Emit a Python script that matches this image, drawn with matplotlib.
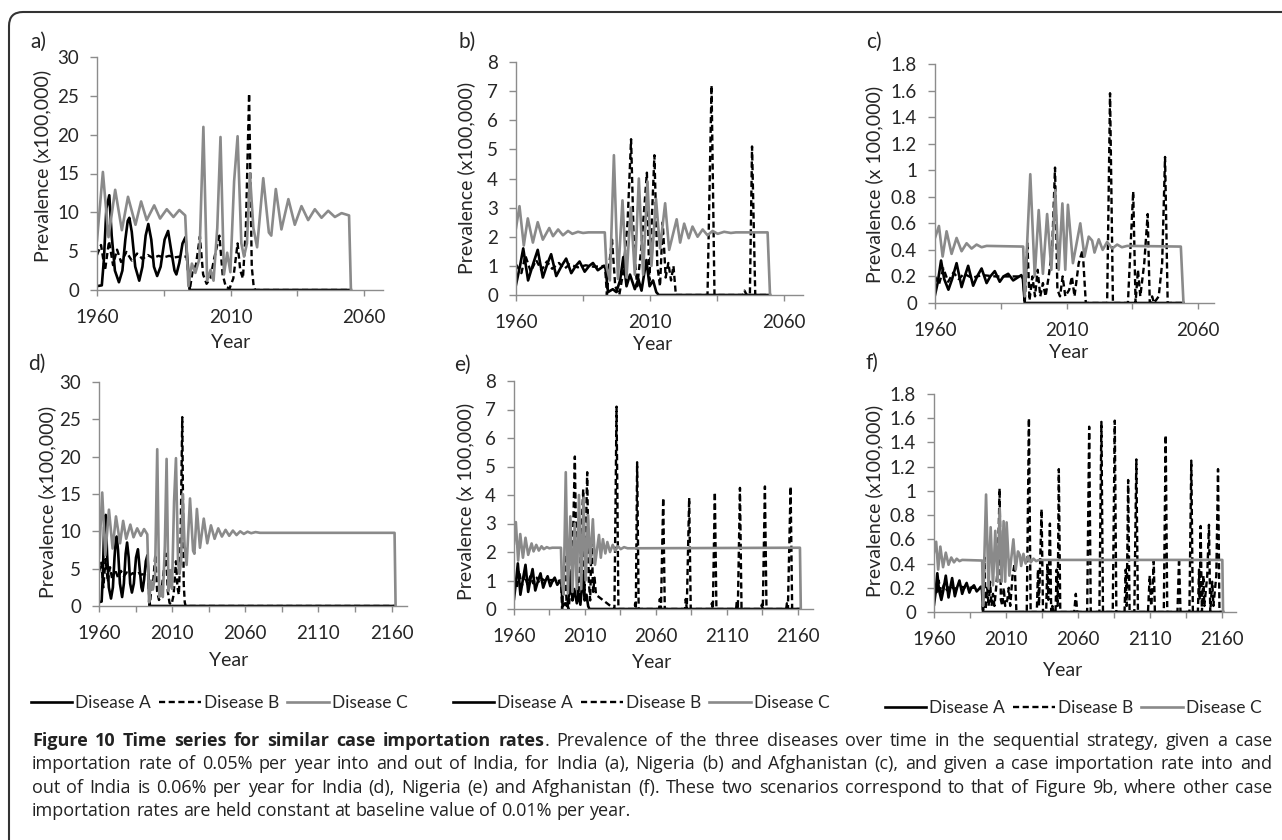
import matplotlib
matplotlib.use("Agg")
import matplotlib.pyplot as plt
from matplotlib.lines import Line2D
from matplotlib.patches import FancyBboxPatch
from matplotlib.transforms import IdentityTransform
from matplotlib.ticker import FixedLocator, FuncFormatter

plt.rcParams['font.family'] = ['Lato', 'DejaVu Sans']

### Data: (year, prevalence) vertices for each series
# India, 0.05% importation (a)
india05_A = [(1960, 0.5), (1961.8, 0.6), (1962.6, 4), (1963.5, 10.5), (1964.6, 12.2), (1965.5, 7), (1966.7, 2.5),
             (1968.2, 1.0), (1969.5, 2.5), (1970.6, 6.5), (1971.5, 8.9), (1972.1, 9.3), (1973, 7.5), (1974.3, 3),
             (1975.8, 1.2), (1977, 3), (1978.2, 7), (1979.2, 8.5), (1980.3, 6.5), (1981.3, 3), (1982.5, 1.8),
             (1983.8, 3), (1985.3, 6.5), (1986.6, 7.6), (1987.8, 5), (1989, 2.5), (1989.7, 2.0), (1990.8, 3.5),
             (1992, 6.0), (1993.1, 6.8), (1993.8, 4), (1994.7, 0), (2055, 0)]
india05_B = [(1960, 4.5), (1961.5, 5.8), (1963, 2.5), (1964.5, 6.3), (1966, 3.2), (1967.5, 5.2), (1969, 3.6),
             (1971, 4.9), (1973, 3.8), (1975, 4.7), (1977, 4.0), (1979, 4.5), (1981, 4.1), (1983, 4.4), (1985, 4.2),
             (1987, 4.4), (1989, 4.2), (1991, 4.3), (1993.5, 4.3), (1994.7, 0), (1995.8, 2.5), (1997, 3.2),
             (1998.5, 6.9), (1999.7, 2), (2001, 0.8), (2002.4, 1.5), (2003.8, 4), (2005.8, 7.0), (2007, 2),
             (2008.2, 0.4), (2009.6, 0.2), (2011, 1.5), (2012.6, 6.0), (2013.6, 2.5), (2014.6, 1.5), (2015.7, 8),
             (2016.9, 25.3), (2017.9, 3), (2018.6, 0.5), (2019.2, 0), (2055, 0)]
india05_C = [(1960, 6.4), (1962.2, 15.2), (1964.3, 6.8), (1966.8, 12.9), (1969.3, 7.7), (1971.6, 12.0),
             (1974.4, 8.4), (1976.5, 11.4), (1978.6, 9.0), (1981.4, 10.9), (1983.6, 9.2), (1986.1, 10.4),
             (1988.6, 9.4), (1990.8, 10.3), (1993, 9.6), (1994.2, 0.5), (1995.5, 3.4), (1996.8, 2.2), (1998.3, 4),
             (1999.8, 21.0), (2001.2, 1.2), (2002.5, 2.6), (2003.6, 1.2), (2005, 8), (2006.2, 19.7), (2007.5, 2.0),
             (2008.7, 4.8), (2009.9, 2.3), (2011.3, 14), (2012.6, 19.8), (2014, 6), (2015, 4.3), (2016.1, 6),
             (2017.2, 15), (2018.5, 8), (2019.9, 5.5), (2022.2, 14.4), (2024.3, 7.4), (2025.2, 7.0), (2026.9, 13.0),
             (2029, 7.8), (2031.6, 11.7), (2034, 8.4), (2036.5, 10.8), (2039, 9.0), (2041.5, 10.4), (2044, 9.3),
             (2046.5, 10.2), (2049, 9.4), (2051.5, 9.9), (2054.3, 9.6), (2055, 0)]

# Nigeria, 0.05% importation (b)
nigeria05_A = [(1960, 0.35), (1961.5, 1.0), (1962.7, 1.6), (1964.5, 0.5), (1966.5, 1.1), (1968.1, 1.55),
               (1970, 0.6), (1971.8, 1.1), (1973.1, 1.4), (1975, 0.65), (1977, 1.0), (1978.7, 1.25), (1980.6, 0.75),
               (1982.3, 1.0), (1983.7, 1.15), (1985.6, 0.8), (1987.3, 1.0), (1988.7, 1.1), (1990.5, 0.85),
               (1992.8, 1.0), (1993.4, 0.9), (1994.3, 0.1), (1996.1, 0.2), (1997.4, 0.1), (1998.8, 0.5), (2000, 1.3),
               (2001.2, 0.3), (2002.5, 0.7), (2004.3, 0.2), (2005.6, 0.55), (2006.8, 0.15), (2008.6, 1.2),
               (2009.8, 0.3), (2011.1, 0.5), (2012.3, 0.1), (2013.2, 0), (2054.7, 0)]
nigeria05_B = [(1960, 1.05), (1962, 0.75), (1963.5, 1.35), (1965.5, 0.8), (1967.5, 1.2), (1969.5, 0.85),
               (1971.5, 1.15), (1973.5, 0.9), (1976, 1.1), (1978, 0.9), (1980, 1.05), (1983, 0.95), (1986, 1.02),
               (1989, 0.97), (1993.2, 1.0), (1993.9, 0), (1994.7, 1.0), (1995.8, 1.9), (1997, 0.3), (1998.5, 0),
               (2000, 0.8), (2001.6, 2.5), (2002.9, 5.35), (2004, 1.5), (2005.2, 0.3), (2006.7, 1.6), (2008.8, 4.2),
               (2009.7, 0.5), (2010.6, 2.5), (2011.6, 4.8), (2012.7, 1.0), (2013.7, 0.3), (2014.7, 2.5),
               (2015.8, 0.6), (2016.8, 1.1), (2017.8, 0.5), (2018.7, 1.0), (2019.6, 0), (2031.4, 0), (2032.9, 7.2),
               (2034, 0), (2044.6, 0), (2045.2, 0.15), (2046, 0), (2047.2, 0), (2048, 5.1), (2049.2, 0),
               (2054.7, 0)]
nigeria05_C = [(1960, 2.3), (1961.3, 3.05), (1962.9, 1.7), (1964.4, 2.63), (1966.3, 1.8), (1968.1, 2.5),
               (1970, 1.9), (1972.4, 2.3), (1973.8, 2.02), (1975.7, 2.25), (1977.5, 2.05), (1979.4, 2.2),
               (1981, 2.1), (1983.1, 2.17), (1985, 2.13), (1987, 2.15), (1993.1, 2.15), (1993.7, 1.0), (1995, 0.5),
               (1996.5, 4.8), (1998, 0.55), (1999.7, 3.25), (2001.2, 0.6), (2002.8, 3.0), (2004.3, 0.7),
               (2005.8, 4.0), (2007.4, 0.7), (2009, 3.9), (2010.5, 1.0), (2012.2, 3.3), (2013.7, 1.6),
               (2015.6, 3.15), (2017.1, 1.55), (2019.9, 2.6), (2021.2, 1.8), (2022.7, 2.45), (2024.4, 1.95),
               (2025.8, 2.35), (2027.7, 2.0), (2029.6, 2.25), (2031.4, 2.05), (2033.3, 2.2), (2035.2, 2.1),
               (2037.6, 2.17), (2040.1, 2.13), (2042, 2.15), (2053.8, 2.15), (2054.7, 0)]

# Afghanistan, 0.05% importation (c)
afghan05_A = [(1960, 0.06), (1961, 0.15), (1962.3, 0.32), (1963.5, 0.18), (1965.1, 0.1), (1966.5, 0.18),
              (1968.2, 0.3), (1970.1, 0.12), (1971.3, 0.2), (1972.6, 0.28), (1974.5, 0.13), (1976, 0.2),
              (1977.7, 0.26), (1979.6, 0.15), (1981, 0.2), (1982.7, 0.24), (1984.6, 0.16), (1986, 0.2),
              (1987.8, 0.22), (1989.7, 0.17), (1992.8, 0.21), (1993.4, 0.18), (1994.1, 0), (2054.4, 0)]
afghan05_B = [(1960, 0.2), (1961.5, 0.14), (1963.2, 0.26), (1965, 0.16), (1967, 0.23), (1969, 0.18), (1971, 0.22),
              (1974, 0.19), (1978, 0.21), (1983, 0.2), (1993.5, 0.2), (1994.1, 0), (1995.1, 0.45), (1995.9, 0.02),
              (1997, 0.2), (1998, 0.05), (1999, 0.25), (2000, 0.05), (2001, 0.15), (2002, 0.05), (2003.2, 0.2),
              (2004.5, 0.4), (2005.6, 1.02), (2006.5, 0.1), (2007.5, 0.05), (2008.5, 0.2), (2009.5, 0.05),
              (2011, 0.1), (2012, 0.2), (2013, 0.05), (2014.6, 0.3), (2016.1, 0.4), (2017.3, 0), (2025.4, 0),
              (2026.5, 1.58), (2027.6, 0), (2033.3, 0), (2034, 0.3), (2035.3, 0.84), (2036.2, 0), (2037.1, 0.25),
              (2038, 0.05), (2039.5, 0.3), (2040.8, 0.67), (2041.6, 0), (2042.5, 0.05), (2043.2, 0), (2045, 0.05),
              (2046.3, 0.3), (2047.4, 1.1), (2048.4, 0), (2054.4, 0)]
afghan05_C = [(1960, 0.49), (1961.5, 0.58), (1962.9, 0.35), (1964.4, 0.54), (1966.3, 0.37), (1968.2, 0.49),
              (1970.1, 0.39), (1972, 0.45), (1973.9, 0.41), (1975.8, 0.44), (1977.7, 0.42), (1979.6, 0.43),
              (1993.5, 0.425), (1994.1, 0.05), (1996.2, 0.97), (1997.9, 0.2), (1999.4, 0.7), (2001, 0.22),
              (2002.6, 0.67), (2004.2, 0.25), (2005.7, 0.85), (2007, 0.25), (2008.4, 0.75), (2009.5, 0.25),
              (2010.5, 0.74), (2012.4, 0.3), (2015.2, 0.6), (2016.8, 0.35), (2018.4, 0.5), (2019.7, 0.47),
              (2020.6, 0.38), (2022.2, 0.48), (2023.7, 0.4), (2025.4, 0.46), (2027.3, 0.41), (2029.2, 0.44),
              (2031, 0.42), (2033, 0.43), (2053.4, 0.425), (2054.4, 0)]

# India, 0.06% importation (d)
india06_A = india05_A[:-1] + [(2162, 0)]
india06_B = india05_B[:-1] + [(2162, 0)]
india06_C = india05_C[:-3] + [(2051.5, 10.1), (2054, 9.5), (2056.5, 10.0), (2059, 9.65), (2061.5, 9.95),
                              (2064, 9.75), (2067, 9.9), (2070, 9.8), (2162, 9.8), (2162.7, 0)]

# Nigeria, 0.06% importation (e)
nigeria06_A = nigeria05_A[:-1] + [(2162, 0)]
nigeria06_B = nigeria05_B[:-12] + [(2030.8, 0), (2032.3, 7.1), (2033.6, 0), (2045.0, 0), (2045.4, 0.2),
                                   (2045.9, 0), (2046.8, 5.15), (2047.9, 0), (2062.3, 0), (2062.8, 0.35),
                                   (2063.6, 0), (2065.2, 3.9), (2066.3, 0), (2080.6, 0), (2081.1, 0.35),
                                   (2081.8, 0), (2083.5, 3.9), (2084.6, 0), (2099, 0), (2099.5, 0.2), (2100.2, 0),
                                   (2101.6, 4.1), (2102.7, 0), (2116.6, 0), (2117.1, 0.3), (2117.8, 0),
                                   (2119.3, 4.25), (2120.4, 0), (2134.2, 0), (2134.7, 0.15), (2135.4, 0),
                                   (2136.9, 4.3), (2138, 0), (2151.9, 0), (2152.4, 0.2), (2153.1, 0),
                                   (2155, 4.3), (2156.1, 0), (2162, 0)]
nigeria06_C = nigeria05_C[:-3] + [(2161.6, 2.15), (2162.2, 0)]

# Afghanistan, 0.06% importation (f)
afghan06_A = afghan05_A[:-1] + [(2161, 0)]
afghan06_B = afghan05_B[:-19] + [(2024.5, 0), (2026, 1.6), (2027.2, 0), (2031.5, 0), (2032.3, 0.35), (2033, 0.05),
                                 (2034.8, 0.85), (2035.8, 0), (2038, 0), (2038.8, 0.4), (2039.5, 0.1),
                                 (2040.6, 0.73), (2041.5, 0), (2042.3, 0.05), (2043, 0), (2044.5, 0),
                                 (2045.3, 0.35), (2046, 0.05), (2046.8, 1.18), (2047.8, 0), (2057.5, 0),
                                 (2058.6, 0.15), (2059.6, 0), (2066.5, 0), (2067.9, 1.53), (2069, 0), (2075, 0),
                                 (2076.4, 1.57), (2077.5, 0), (2084.3, 0), (2085.7, 1.58), (2086.8, 0),
                                 (2092.5, 0), (2093.3, 0.35), (2094, 0.05), (2095, 1.09), (2096, 0), (2099.3, 0),
                                 (2100.7, 1.26), (2101.8, 0), (2108.8, 0), (2110, 0.3), (2111, 0.05), (2112, 0.2),
                                 (2112.8, 0.42), (2113.6, 0), (2119.8, 0), (2121.1, 1.46), (2122.2, 0),
                                 (2129.3, 0), (2130.4, 0.45), (2131.4, 0), (2137.6, 0), (2138.9, 1.25), (2140, 0),
                                 (2143.5, 0), (2144.3, 0.35), (2144.8, 0.1), (2145.4, 0.71), (2146.3, 0),
                                 (2147.3, 0.3), (2148, 0.05), (2150, 0.3), (2151.2, 0.72), (2152.1, 0),
                                 (2153.5, 0.25), (2154.3, 0.05), (2156.3, 0.3), (2157.5, 1.18), (2158.5, 0),
                                 (2161, 0)]
afghan06_C = afghan05_C[:-2] + [(2160.5, 0.43), (2161, 0)]

legend_labels = ['Disease A', 'Disease B', 'Disease C']

caption_bold = "Figure 10 Time series for similar case importation rates"
caption_lines = [
    ". Prevalence of the three diseases over time in the sequential strategy, given a case",
    "importation rate of 0.05% per year into and out of India, for India (a), Nigeria (b) and Afghanistan (c), and given a case importation rate into and",
    "out of India is 0.06% per year for India (d), Nigeria (e) and Afghanistan (f). These two scenarios correspond to that of Figure 9b, where other case",
    "importation rates are held constant at baseline value of 0.01% per year.",
]

### Layout (pixel positions in the 1282 x 840 picture)
W, H = 1282, 840
def fx(px):
    return px / W
def fy(py):
    return 1 - py / H

gray = '#8a8a8a'
axcol = '#8c8c8c'
txtcol = '#262626'
dash = (2.6, 1.5)

# panel: letter, series, ylabel, ymax, ystep, xmax, box (left, zero, right, top), letter pos, ylabel pos, Year pos
panels = [
    ('a)', (india05_A, india05_B, india05_C), 'Prevalence (x100,000)', 30, 5, 2067,
     (97, 290, 383, 57), (38, 42), (42, 166), (231, 343)),
    ('b)', (nigeria05_A, nigeria05_B, nigeria05_C), 'Prevalence (x100,000)', 8, 1, 2067,
     (516, 295, 803, 62), (467, 42), (466, 178), (653, 345)),
    ('c)', (afghan05_A, afghan05_B, afghan05_C), 'Prevalence (x 100,000)', 1.8, 0.2, 2066,
     (935, 303, 1214, 64), (874, 42), (874, 184), (1069, 352)),
    ('d)', (india06_A, india06_B, india06_C), 'Prevalence (x100,000)', 30, 5, 2170.5,
     (99, 606, 407, 382), (37, 364), (47, 502), (229, 660)),
    ('e)', (nigeria06_A, nigeria06_B, nigeria06_C), 'Prevalence (x 100,000)', 8, 1, 2170.8,
     (514, 609, 813, 381), (462, 365), (465, 501), (652, 662)),
    ('f)', (afghan06_A, afghan06_B, afghan06_C), 'Prevalence (x100,000)', 1.8, 0.2, 2170,
     (934, 612, 1236, 394), (872, 363), (874, 501), (1063, 670)),
]

fig = plt.figure(figsize=(W / 100, H / 100), dpi=100)

for letter, (sA, sB, sC), ylab, ymax, ystep, xmax, box, lpos, ypos, yrpos in panels:
    l, z, r, t = box
    ax = fig.add_axes([fx(l), fy(z), (r - l) / W, (z - t) / H])
    ax.plot(*zip(*sA), color='black', lw=1.9, solid_joinstyle='round')
    ax.plot(*zip(*sB), color='black', lw=1.7, dashes=dash)
    ax.plot(*zip(*sC), color=gray, lw=1.9, solid_joinstyle='round')
    ax.set_xlim(1960, xmax)
    ax.set_ylim(0, ymax)
    for s in ['top', 'right']:
        ax.spines[s].set_visible(False)
    for s in ['left', 'bottom']:
        ax.spines[s].set_color(axcol)
        ax.spines[s].set_linewidth(1.0)
    xt = list(range(1960, int(xmax) + 1, 25))
    ax.xaxis.set_major_locator(FixedLocator(xt))
    ax.xaxis.set_major_formatter(FuncFormatter(lambda v, p: str(int(round(v))) if int(round(v - 1960)) % 50 == 0 else ''))
    nt = int(round(ymax / ystep))
    ax.yaxis.set_major_locator(FixedLocator([round(i * ystep, 2) for i in range(nt + 1)]))
    ax.yaxis.set_major_formatter(FuncFormatter(lambda v, p: f'{v:g}'))
    ax.tick_params(axis='x', direction='out', length=4, width=1, color=axcol, labelsize=13.5, pad=10, labelcolor=txtcol)
    ax.tick_params(axis='y', direction='out', length=5, width=1, color=axcol, labelsize=13.5, pad=8, labelcolor=txtcol)
    ax.patch.set_alpha(0)
    fig.text(fx(lpos[0]), fy(lpos[1]), letter, fontsize=15, ha='center', va='center', color=txtcol)
    fig.text(fx(ypos[0]), fy(ypos[1]), ylab, fontsize=14, rotation=90, ha='center', va='center', color=txtcol)
    fig.text(fx(yrpos[0]), fy(yrpos[1]), 'Year', fontsize=14, ha='center', va='center', color=txtcol)

# legends below each column
handles = [Line2D([], [], color='black', lw=1.9),
           Line2D([], [], color='black', lw=1.7, dashes=dash),
           Line2D([], [], color=gray, lw=1.9)]
for cx, cy in [(219, 703), (641, 703), (1073, 708)]:
    fig.legend(handles, legend_labels, loc='center', bbox_to_anchor=(fx(cx), fy(cy)), ncol=3, frameon=False,
               fontsize=12.5, handlelength=2.4, handletextpad=0.15, columnspacing=0.5, labelcolor=txtcol)

# outer frame (top and left edges with a rounded corner)
frame = FancyBboxPatch((9, -30), 1400, 828 + 30, boxstyle='round,pad=0,rounding_size=14',
                       transform=IdentityTransform(), fill=False, edgecolor='#333333', lw=1.5)
fig.add_artist(frame)

# justified caption
cap_font = 'Open Sans'
cap_size = 13
x0, x1 = 32, 1272
line_y = [741, 764, 788, 811]

words = [[(w, 'bold')] for w in caption_bold.split()]
rest = caption_lines[0].split()
words[-1].append((rest[0], 'normal'))
words += [[(w, 'normal')] for w in rest[1:]]
all_lines = [words] + [[[(w, 'normal')] for w in ln.split()] for ln in caption_lines[1:]]

fig.canvas.draw()
rend = fig.canvas.get_renderer()
for i, (wl, yy) in enumerate(zip(all_lines, line_y)):
    objs = []
    for word in wl:
        parts = [fig.text(0, fy(yy), txt, fontsize=cap_size, fontweight=wt, family=cap_font,
                          ha='left', va='center', color='#222222') for txt, wt in word]
        objs.append(parts)
    widths = [[p.get_window_extent(rend).width for p in parts] for parts in objs]
    total = sum(sum(w) for w in widths)
    last = i == len(all_lines) - 1
    gap = cap_size * 100 / 72 * 0.26 if last else (x1 - x0 - total) / (len(objs) - 1)
    x = x0
    for parts, ws in zip(objs, widths):
        for p, w in zip(parts, ws):
            p.set_x(fx(x))
            x += w
        x += gap

fig.savefig('out.png', dpi=100)
